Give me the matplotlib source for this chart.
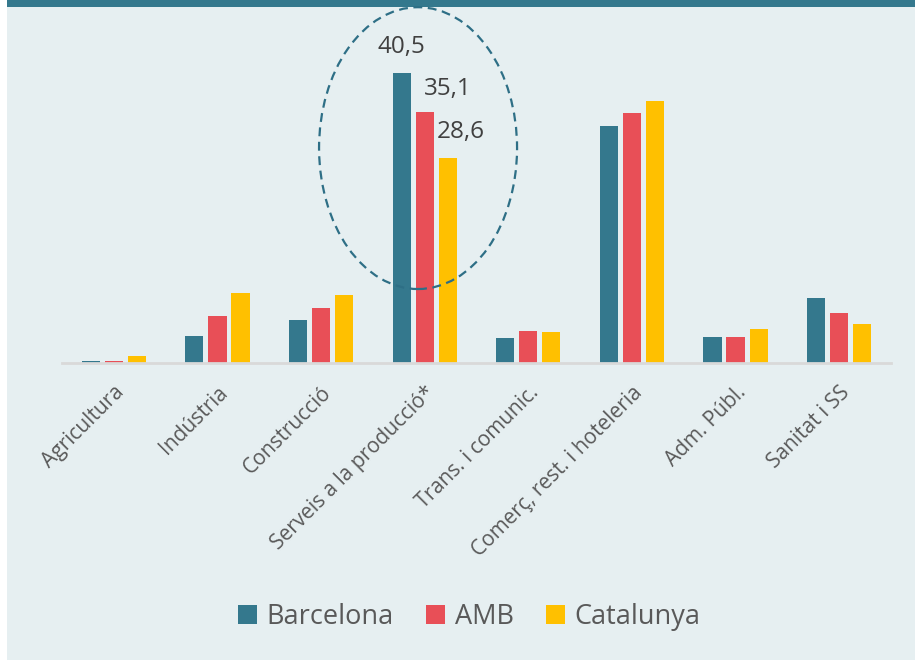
import numpy as np
import matplotlib
matplotlib.use("Agg")
import matplotlib.pyplot as plt
import matplotlib.patches as mpatch

categories = ["Agricultura", "Indústria", "Construcció", "Serveis a la producció*",
              "Trans. i comunic.", "Comerç, rest. i hoteleria", "Adm. Públ.", "Sanitat i SS"]
barcelona = [0.2, 3.8, 5.9, 40.5, 3.4, 33.1, 3.6, 9.0]
amb = [0.2, 6.5, 7.7, 35.1, 4.5, 34.9, 3.6, 7.0]
catalunya = [1.0, 9.7, 9.4, 28.6, 4.3, 36.6, 4.7, 5.4]
series_names = ["Barcelona", "AMB", "Catalunya"]

colors = ["#34788d", "#e84f57", "#ffc000"]
bg = "#e6eff1"
txt = "#595959"

plt.rcParams["font.family"] = ["Open Sans", "DejaVu Sans"]

fig = plt.figure(figsize=(9.15, 6.61), dpi=100)
fig.patch.set_facecolor("white")
# background panel and top band
fig.patches.append(mpatch.Rectangle((7 / 915, 1 / 661), 908 / 915, 653 / 661,
                                    transform=fig.transFigure, facecolor=bg,
                                    edgecolor="none", zorder=-10))
fig.patches.append(mpatch.Rectangle((7 / 915, 654 / 661), 908 / 915, 7 / 661,
                                    transform=fig.transFigure, facecolor="#34788d",
                                    edgecolor="none", zorder=-10))

ax = fig.add_axes([62 / 915, (661 - 362.7) / 661, 829 / 915, 45 * 7.153 / 661])
ax.set_facecolor("none")

x = np.arange(len(categories))
w = 0.175
off = 0.222
for i, (vals, name) in enumerate(zip([barcelona, amb, catalunya], series_names)):
    ax.bar(x + (i - 1) * off, vals, w, color=colors[i], label=name, zorder=2)

ax.set_xlim(-0.5, len(categories) - 0.5)
ax.set_ylim(0, 45)
for s in ["top", "right", "left"]:
    ax.spines[s].set_visible(False)
ax.spines["bottom"].set_color("#d9d9d9")
ax.spines["bottom"].set_linewidth(2)
ax.set_yticks([])
ax.set_xticks(x)
ax.set_xticklabels(categories, rotation=45, ha="right", rotation_mode="anchor",
                   fontsize=15, color=txt)
ax.tick_params(axis="x", length=0, pad=14)

# labels for the highlighted group
i = 3
ax.text(x[i] - off, 44.1, "40,5", ha="center", va="center",
        fontsize=17.5, color="#404040")
ax.text(x[i] - 0.01, 38.3, "35,1", ha="left", va="center",
        fontsize=17.5, color="#404040")
ax.text(x[i] + 0.115, 32.2, "28,6", ha="left", va="center",
        fontsize=17.5, color="#404040")

ell = mpatch.Ellipse((2.936, 30.0), 1.911, 39.4, fill=False, edgecolor="#2e6f86",
                     linestyle=(0, (4, 2.5)), linewidth=1.6, clip_on=False, zorder=3)
ax.add_patch(ell)

leg = fig.legend(loc="center", bbox_to_anchor=(0.513, (661 - 617) / 661), ncol=3,
                 frameon=False, fontsize=19.5, handlelength=0.7, handleheight=0.7,
                 handletextpad=0.35, columnspacing=1.2)
for t in leg.get_texts():
    t.set_color(txt)

fig.savefig("out.png", dpi=100, facecolor=fig.get_facecolor())
